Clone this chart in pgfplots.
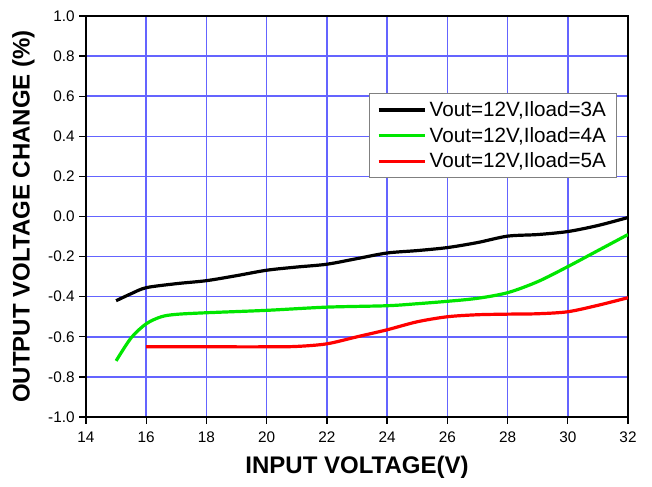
\documentclass[border=0pt]{standalone}
\usepackage{fontspec}
\setmainfont{Liberation Sans}
\usepackage{pgfplots}
\pgfplotsset{compat=1.18}
\usetikzlibrary{calc}
\definecolor{gridblue}{RGB}{100,100,255}
\definecolor{lgreen}{RGB}{0,230,0}
\begin{document}
\begin{tikzpicture}
\begin{axis}[
    name=ax,
    scale only axis, width=406.5pt, height=300.75pt,
    xmin=14, xmax=32, ymin=-1, ymax=1,
    xtick={14,16,...,32}, ytick={-1,-0.8,...,1.01},
    grid=major, major grid style={gridblue, line width=1.1pt},
    axis line style={black, line width=1.4pt},
    tick style={black, line width=1pt}, tick align=outside,
    major tick length=5pt,
    xtick pos=bottom, ytick pos=left,
    /pgf/number format/assume math mode=true,
    tick label style={font=\fontsize{11.5}{13}\selectfont},
    xticklabel style={yshift=-2.5pt},
    yticklabel style={/pgf/number format/.cd, fixed, fixed zerofill, precision=1},
    xlabel={\textbf{INPUT VOLTAGE(V)}},
    ylabel={\textbf{OUTPUT VOLTAGE CHANGE (\%)}},
    label style={font=\fontsize{18}{20}\selectfont},
    xlabel style={at={(axis description cs:0.5,0)}, anchor=center, yshift=-38pt},
    ylabel style={at={(axis description cs:0,0.5)}, anchor=center, yshift=47pt},
    legend cell align=left,
    legend style={at={(0.98,0.808)}, anchor=north east, draw=gray, line width=0.8pt,
        font=\fontsize{15.5}{18}\selectfont, row sep=2.5pt, inner xsep=6pt, inner ysep=4pt},
    legend image code/.code={\draw[#1, line width=2.5pt] (0pt,0pt) -- (35pt,0pt);},
]
\addplot[black, line width=2.4pt, smooth] coordinates {
(15,-0.42) (15.5,-0.385) (16,-0.355) (17,-0.335) (18,-0.32) (19,-0.295) (20,-0.268)
(21,-0.252) (22,-0.238) (23,-0.21) (24,-0.182) (25,-0.17) (26,-0.155) (27,-0.13)
(28,-0.098) (29,-0.09) (30,-0.075) (31,-0.045) (32,-0.005)};
\addlegendentry{Vout=12V,Iload=3A}
\addplot[lgreen, line width=2.4pt, smooth] coordinates {
(15,-0.72) (15.5,-0.605) (16,-0.535) (16.5,-0.50) (17,-0.488) (18,-0.48) (20,-0.468)
(22,-0.452) (24,-0.445) (25,-0.435) (26,-0.423) (27,-0.408) (28,-0.38) (29,-0.325)
(30,-0.25) (31,-0.17) (32,-0.09)};
\addlegendentry{Vout=12V,Iload=4A}
\addplot[red, line width=2.4pt, smooth] coordinates {
(16,-0.65) (18,-0.65) (20,-0.65) (21,-0.648) (22,-0.635) (23,-0.60) (24,-0.565)
(25,-0.525) (26,-0.50) (27,-0.49) (28,-0.487) (29,-0.485) (30,-0.475) (31,-0.443) (32,-0.405)};
\addlegendentry{Vout=12V,Iload=5A}
\end{axis}
\pgfresetboundingbox
\useasboundingbox ($(ax.south west)+(-64.5pt,-51.75pt)$) rectangle ($(ax.north east)+(18pt,12pt)$);
\end{tikzpicture}
\end{document}
